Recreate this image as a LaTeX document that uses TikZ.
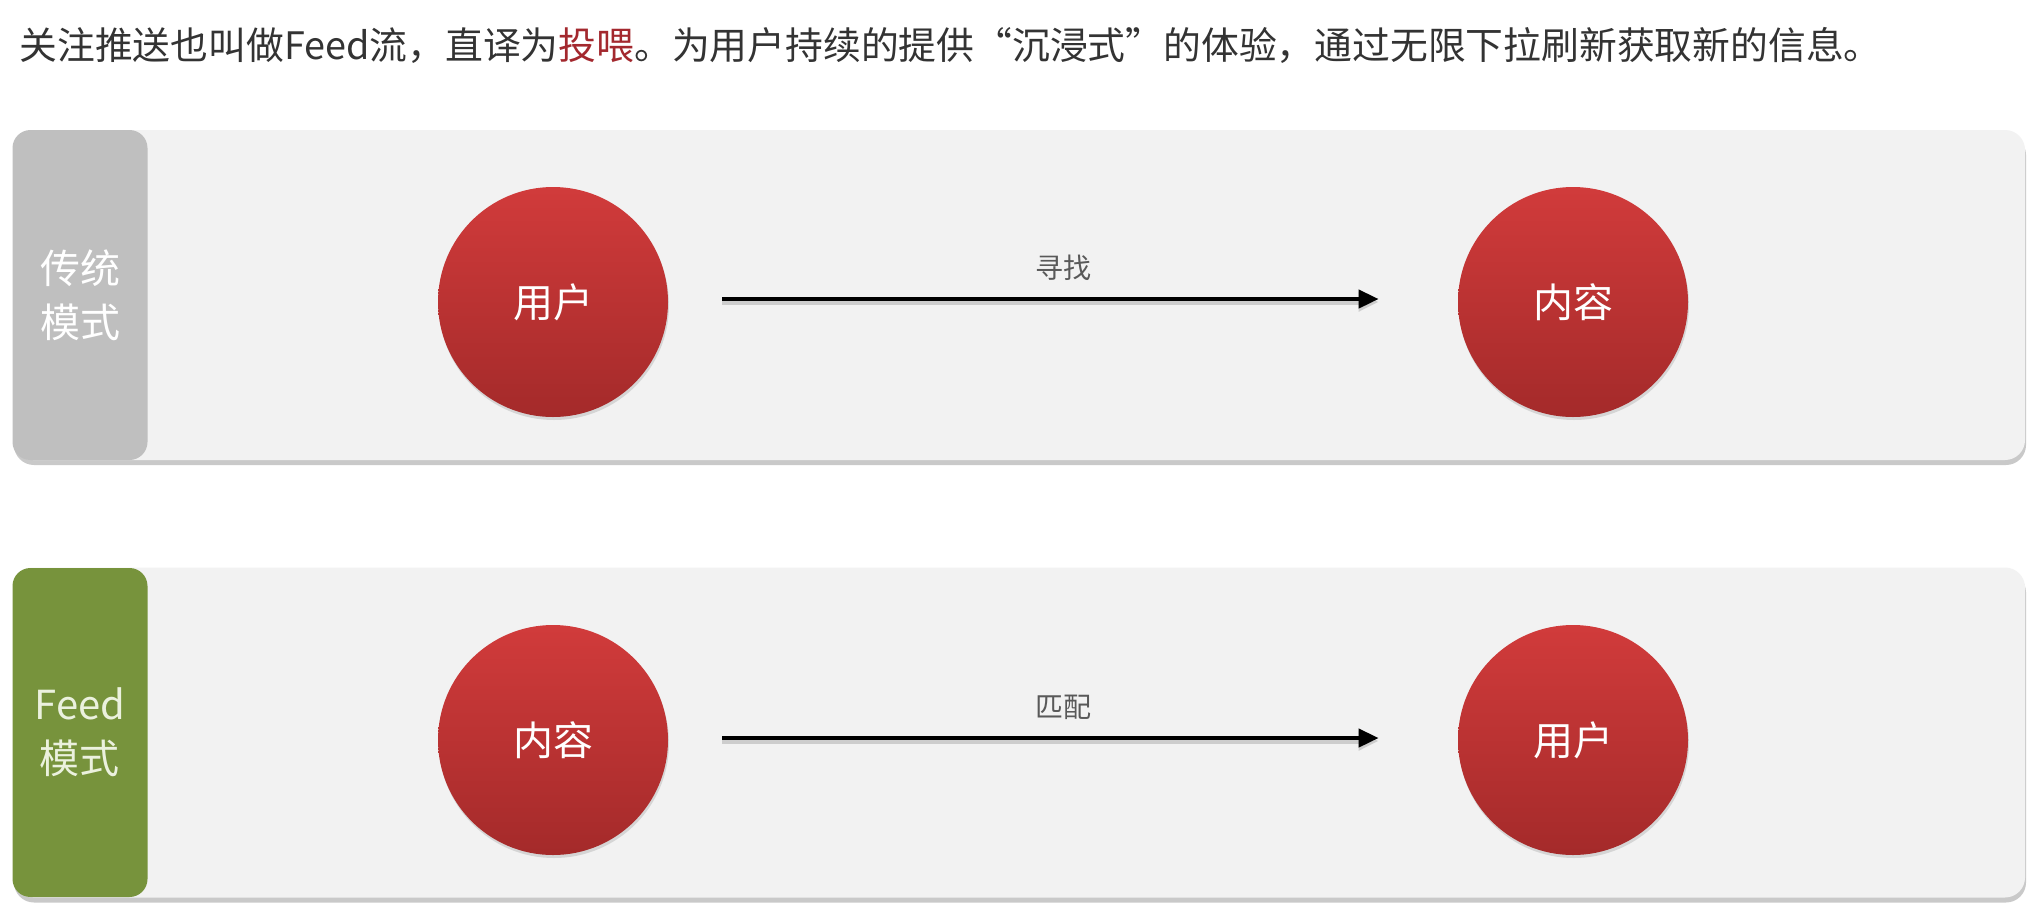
\documentclass[tikz,border=0pt]{standalone}
\usepackage{fontspec}
\newfontfamily\cjk{Noto Sans CJK SC}
\usetikzlibrary{shadows,arrows.meta}
\definecolor{panelbg}{HTML}{F2F2F2}
\definecolor{tabgray}{HTML}{BFBFBF}
\definecolor{tabgreen}{HTML}{77933C}
\definecolor{greentext}{HTML}{EBF1DE}
\definecolor{redtop}{HTML}{D13B3B}
\definecolor{redbot}{HTML}{A42A2A}
\definecolor{titletext}{HTML}{333333}
\definecolor{highlight}{HTML}{A3282E}
\definecolor{labelgray}{HTML}{595959}
\tikzset{
  panel/.style={fill=panelbg, rounded corners=10pt, minimum width=1006pt, minimum height=165pt, inner sep=0pt,
    drop shadow={shadow xshift=0.5pt, shadow yshift=-2.5pt, opacity=0.35, fill=black!60}},
  tabbox/.style={rounded corners=9pt, minimum width=67.5pt, minimum height=165pt, inner sep=0pt, align=center,
    font=\cjk\fontsize{20pt}{27pt}\selectfont},
  ball/.style={circle, minimum size=115pt, inner sep=0pt, top color=redtop, bottom color=redbot,
    text=white, font=\cjk\fontsize{20pt}{24pt}\selectfont,
    drop shadow={shadow xshift=0.5pt, shadow yshift=-1.5pt, opacity=0.25}},
  flow/.style={line width=2pt, -{Triangle[length=10pt,width=9pt]}, shorten <=27pt, shorten >=39.5pt,
    preaction={draw=black, opacity=0.15, line width=3pt, transform canvas={yshift=-1.5pt}}},
  flowlabel/.style={text=labelgray, font=\cjk\fontsize{14pt}{16pt}\selectfont, above=5pt}
}
\begin{document}
\begin{tikzpicture}[x=0.5pt,y=-0.5pt,font=\cjk]
\useasboundingbox (0,0) rectangle (2039,917);
\fill[white] (0,0) rectangle (2039,917);

\node[anchor=base west, inner sep=0pt, text=titletext, font=\cjk\fontsize{18.9pt}{22pt}\selectfont] (title) at (19,59)
  {关注推送也叫做Feed流，直译为{\color{highlight}投喂}。为用户持续的提供“沉浸式”的体验，通过无限下拉刷新获取新的信息。};

% panel 1
\node[panel] (p1) at (1019,295) {};
\node[tabbox, fill=tabgray, text=white] (t1) at (80,295) {传统\\模式};
\node[ball] (u1) at (553,302) {用户};
\node[ball] (c1) at (1573,302) {内容};
\draw[flow] ([yshift=1.5pt]u1.east) -- node[flowlabel] {寻找} ([yshift=1.5pt]c1.west);

% panel 2
\node[panel] (p2) at (1019,732.5) {};
\node[tabbox, fill=tabgreen, text=greentext, minimum height=164.5pt] (t2) at (80,732.5) {Feed\\模式};
\node[ball] (c2) at (553,740) {内容};
\node[ball] (u2) at (1573,740) {用户};
\draw[flow] ([yshift=1pt]c2.east) -- node[flowlabel] {匹配} ([yshift=1pt]u2.west);
\end{tikzpicture}
\end{document}
